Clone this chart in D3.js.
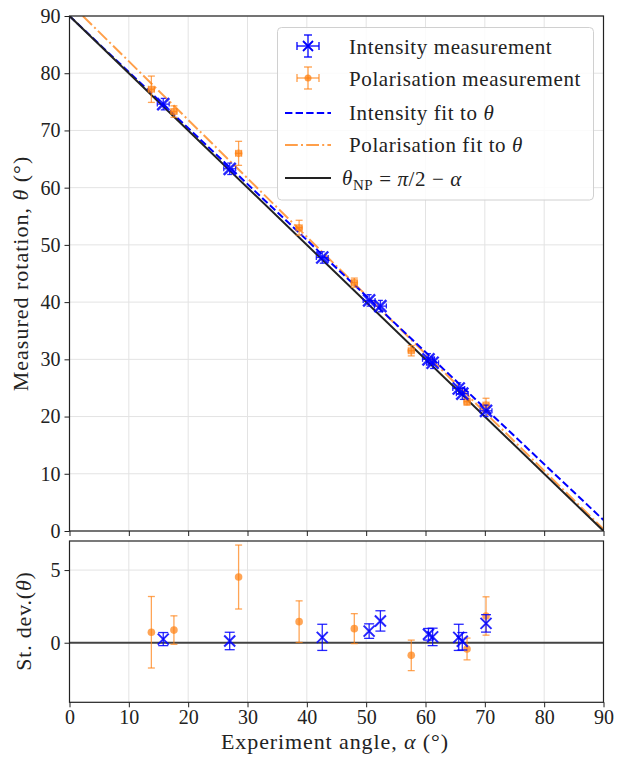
<!DOCTYPE html>
<html>
<head>
<meta charset="utf-8">
<script src="https://cdn.jsdelivr.net/npm/d3@7"></script>
<style>
  body { margin: 0; background: #fff; }
  svg text { font-family: "Liberation Serif", "DejaVu Serif", serif; fill: #222; }
</style>
</head>
<body>
<div id="chart"></div>
<script>
// experiment angle alpha and measured rotation theta (degrees)
var intAlpha = [15.8, 27.0, 42.6, 50.5, 52.4, 60.5, 61.2, 65.6, 66.2, 70.2];
var intTheta = [74.6, 63.3, 47.8, 40.3, 39.3, 30.0, 29.4, 24.9, 24.0, 21.0];
var intAlphaErr = [1, 1, 1, 1, 1, 1, 1, 1, 1, 1];
var intThetaErr = [1, 1, 1, 1, 1, 1, 1, 1, 1, 1];
var intResid = [0.25, 0.12, 0.37, 0.8, 1.5, 0.58, 0.4, 0.37, 0.1, 1.33];
var intResidErr = [0.45, 0.6, 0.9, 0.5, 0.7, 0.4, 0.6, 0.9, 0.6, 0.6];

var polAlpha = [13.8, 17.6, 28.5, 38.7, 48.0, 57.6, 67.0, 70.2];
var polTheta = [77.2, 73.3, 66.0, 53.0, 43.4, 31.5, 22.6, 22.0];
var polAlphaErr = [0.5, 0.5, 0.5, 0.5, 0.5, 0.5, 0.5, 0.5];
var polThetaErr = [2.3, 1.0, 2.1, 1.3, 0.8, 0.9, 0.6, 1.2];
var polResid = [0.72, 0.87, 4.52, 1.45, 0.97, -0.87, -0.43, 1.84];
var polResidErr = [2.46, 0.98, 2.2, 1.43, 1.03, 1.05, 0.75, 1.32];

// fitted lines, end points
var intFitAlpha = [0, 90];
var intFitTheta = [90, 1.9];
var polFitAlpha = [2.25, 90];
var polFitTheta = [90, 0.3];
var npAlpha = [0, 90];
var npTheta = [90, 0];

var xTicks = [0, 10, 20, 30, 40, 50, 60, 70, 80, 90];
var yTicks = [0, 10, 20, 30, 40, 50, 60, 70, 80, 90];
var rTicks = [0, 5];

var W = 628, H = 757;
var blue = "#0000ff", orange = "#ff7f0e";

var svg = d3.select("#chart").append("svg")
  .attr("width", W).attr("height", H);

var x = d3.scaleLinear().domain([0, 90]).range([69.5, 603.5]);
var y = d3.scaleLinear().domain([0, 90]).range([531, 16]);
var yr = d3.scaleLinear().domain([-4.1, 7.0]).range([702.3, 541]);

var tickFont = 20;

// grids
function grid(g, ys, yscale, y0, y1) {
  g.selectAll(".vg").data(xTicks).enter().append("line")
    .attr("x1", d => x(d)).attr("x2", d => x(d))
    .attr("y1", y0).attr("y2", y1)
    .attr("stroke", "#e3e3e3").attr("stroke-width", 1);
  g.selectAll(".hg").data(ys).enter().append("line")
    .attr("x1", x(0)).attr("x2", x(90))
    .attr("y1", d => yscale(d)).attr("y2", d => yscale(d))
    .attr("stroke", "#e3e3e3").attr("stroke-width", 1);
}
grid(svg.append("g"), yTicks, y, 16, 531);
grid(svg.append("g"), rTicks, yr, 541, 702.3);

// axes
function styleAxis(g) {
  g.select(".domain").remove();
  g.selectAll(".tick line").attr("stroke", "#222").attr("stroke-width", 1);
  g.selectAll(".tick text").attr("font-size", tickFont)
    .style("font-family", "'Liberation Serif', serif").attr("fill", "#222");
}
svg.append("g").attr("transform", "translate(0,531)")
  .call(d3.axisBottom(x).tickValues(xTicks).tickSize(5).tickFormat(""))
  .call(styleAxis);
svg.append("g").attr("transform", "translate(0,702.3)")
  .call(d3.axisBottom(x).tickValues(xTicks).tickSize(5).tickPadding(3).tickFormat(d3.format("d")))
  .call(styleAxis);
svg.append("g").attr("transform", "translate(69.5,0)")
  .call(d3.axisLeft(y).tickValues(yTicks).tickSize(5).tickPadding(4).tickFormat(d3.format("d")))
  .call(styleAxis);
svg.append("g").attr("transform", "translate(69.5,0)")
  .call(d3.axisLeft(yr).tickValues(rTicks).tickSize(5).tickPadding(4).tickFormat(d3.format("d")))
  .call(styleAxis);

// clip for top panel
svg.append("clipPath").attr("id", "clipTop").append("rect")
  .attr("x", x(0)).attr("y", 16).attr("width", x(90) - x(0)).attr("height", 515);

var topG = svg.append("g").attr("clip-path", "url(#clipTop)");
var line = d3.line().x(d => x(d[0])).y(d => y(d[1]));

topG.append("path").datum(d3.zip(polFitAlpha, polFitTheta))
  .attr("d", line).attr("fill", "none").attr("stroke", orange).attr("stroke-opacity", 0.75)
  .attr("stroke-width", 2).attr("stroke-dasharray", "12.8,3.2,2,3.2");
topG.append("path").datum(d3.zip(intFitAlpha, intFitTheta))
  .attr("d", line).attr("fill", "none").attr("stroke", blue)
  .attr("stroke-width", 2).attr("stroke-dasharray", "7.4,3.2");
topG.append("path").datum(d3.zip(npAlpha, npTheta))
  .attr("d", line).attr("fill", "none").attr("stroke", "#222")
  .attr("stroke-width", 2);

// error bar helper
function errbars(g, xs, ys, xe, ye, xs_, ys_, col, op, cap) {
  var data = xs.map((d, i) => ({a: d, t: ys[i], ea: xe ? xe[i] : 0, et: ye[i]}));
  var gg = g.append("g").attr("stroke", col).attr("stroke-opacity", op).attr("stroke-width", 1.3);
  data.forEach(function(d) {
    var cx = xs_(d.a), cy = ys_(d.t);
    var t1 = ys_(d.t + d.et), t2 = ys_(d.t - d.et);
    gg.append("line").attr("x1", cx).attr("x2", cx).attr("y1", t1).attr("y2", t2);
    gg.append("line").attr("x1", cx - cap).attr("x2", cx + cap).attr("y1", t1).attr("y2", t1);
    gg.append("line").attr("x1", cx - cap).attr("x2", cx + cap).attr("y1", t2).attr("y2", t2);
    if (d.ea) {
      var a1 = xs_(d.a - d.ea), a2 = xs_(d.a + d.ea);
      gg.append("line").attr("x1", a1).attr("x2", a2).attr("y1", cy).attr("y2", cy);
      gg.append("line").attr("x1", a1).attr("x2", a1).attr("y1", cy - cap).attr("y2", cy + cap);
      gg.append("line").attr("x1", a2).attr("x2", a2).attr("y1", cy - cap).attr("y2", cy + cap);
    }
  });
  return data;
}
function xMarks(g, data, xs_, ys_, s, w) {
  data.forEach(function(d) {
    var cx = xs_(d.a), cy = ys_(d.t);
    g.append("path")
      .attr("d", "M" + (cx - s) + "," + (cy - s) + "L" + (cx + s) + "," + (cy + s) +
                 "M" + (cx - s) + "," + (cy + s) + "L" + (cx + s) + "," + (cy - s))
      .attr("stroke", blue).attr("stroke-opacity", 0.85).attr("stroke-width", w);
  });
}
function dots(g, data, xs_, ys_, r) {
  g.selectAll(null).data(data).enter().append("circle")
    .attr("cx", d => xs_(d.a)).attr("cy", d => ys_(d.t)).attr("r", r)
    .attr("fill", orange).attr("fill-opacity", 0.7);
}

// top panel points
var pg = svg.append("g");
var pd = errbars(pg, polAlpha, polTheta, polAlphaErr, polThetaErr, x, y, orange, 0.7, 3.5);
dots(pg, pd, x, y, 3.8);
var id = errbars(pg, intAlpha, intTheta, intAlphaErr, intThetaErr, x, y, blue, 0.85, 2.5);
xMarks(pg, id, x, y, 6, 2.4);

// bottom panel
var bg = svg.append("g");
bg.append("line").attr("x1", x(0)).attr("x2", x(90)).attr("y1", yr(0)).attr("y2", yr(0))
  .attr("stroke", "#444").attr("stroke-width", 2);
var pr = errbars(bg, polAlpha, polResid, null, polResidErr, x, yr, orange, 0.7, 3.5);
dots(bg, pr, x, yr, 3.8);
var ir = errbars(bg, intAlpha, intResid, null, intResidErr, x, yr, blue, 0.85, 5);
xMarks(bg, ir, x, yr, 5.5, 2);

// frames
svg.append("rect").attr("x", x(0)).attr("y", 16).attr("width", x(90) - x(0)).attr("height", 515)
  .attr("fill", "none").attr("stroke", "#222").attr("stroke-width", 1.2);
svg.append("rect").attr("x", x(0)).attr("y", 541).attr("width", x(90) - x(0)).attr("height", 702.3 - 541)
  .attr("fill", "none").attr("stroke", "#222").attr("stroke-width", 1.2);

// legend
var lg = svg.append("g");
lg.append("rect").attr("x", 277.5).attr("y", 27.5).attr("width", 316).attr("height", 172.5)
  .attr("rx", 4).attr("fill", "#fff").attr("fill-opacity", 0.85)
  .attr("stroke", "#d0d0d0").attr("stroke-width", 1);
var legRows = [47, 79, 113, 145, 178];
var hx0 = 285, hx1 = 331, hc = 308;
// intensity handle
(function() {
  var cy = legRows[0] - 1, g = lg.append("g").attr("stroke", blue).attr("stroke-width", 1.3);
  g.append("line").attr("x1", hc).attr("x2", hc).attr("y1", cy - 11).attr("y2", cy + 11);
  g.append("line").attr("x1", hc - 11).attr("x2", hc + 11).attr("y1", cy).attr("y2", cy);
  [-11, 11].forEach(function(o) {
    g.append("line").attr("x1", hc - 4).attr("x2", hc + 4).attr("y1", cy + o).attr("y2", cy + o);
    g.append("line").attr("x1", hc + o).attr("x2", hc + o).attr("y1", cy - 4).attr("y2", cy + 4);
  });
  g.append("path").attr("d", "M" + (hc - 5) + "," + (cy - 5) + "L" + (hc + 5) + "," + (cy + 5) +
    "M" + (hc - 5) + "," + (cy + 5) + "L" + (hc + 5) + "," + (cy - 5)).attr("stroke-width", 1.8);
})();
// polarisation handle
(function() {
  var cy = legRows[1] - 1, g = lg.append("g").attr("stroke", orange).attr("stroke-opacity", 0.75).attr("stroke-width", 1.3);
  g.append("line").attr("x1", hc).attr("x2", hc).attr("y1", cy - 11).attr("y2", cy + 11);
  g.append("line").attr("x1", hc - 11).attr("x2", hc + 11).attr("y1", cy).attr("y2", cy);
  [-11, 11].forEach(function(o) {
    g.append("line").attr("x1", hc - 4).attr("x2", hc + 4).attr("y1", cy + o).attr("y2", cy + o);
    g.append("line").attr("x1", hc + o).attr("x2", hc + o).attr("y1", cy - 4).attr("y2", cy + 4);
  });
  lg.append("circle").attr("cx", hc).attr("cy", cy).attr("r", 3.5).attr("fill", orange).attr("fill-opacity", 0.75);
})();
lg.append("line").attr("x1", hx0).attr("x2", hx1).attr("y1", legRows[2]).attr("y2", legRows[2])
  .attr("stroke", blue).attr("stroke-width", 2).attr("stroke-dasharray", "7.4,3.2");
lg.append("line").attr("x1", hx0).attr("x2", hx1).attr("y1", legRows[3]).attr("y2", legRows[3])
  .attr("stroke", orange).attr("stroke-opacity", 0.75).attr("stroke-width", 2).attr("stroke-dasharray", "12.8,3.2,2,3.2");
lg.append("line").attr("x1", hx0).attr("x2", hx1).attr("y1", legRows[4]).attr("y2", legRows[4])
  .attr("stroke", "#222").attr("stroke-width", 2);

var legFont = 21;
function legText(i) {
  return lg.append("text").attr("x", 349).attr("y", legRows[i]).attr("dy", "0.35em")
    .attr("font-size", legFont).attr("letter-spacing", 0.6);
}
legText(0).text("Intensity measurement");
legText(1).text("Polarisation measurement");
var t2 = legText(2); t2.append("tspan").text("Intensity fit to ");
t2.append("tspan").attr("font-style", "italic").text("θ");
var t3 = legText(3); t3.append("tspan").text("Polarisation fit to ");
t3.append("tspan").attr("font-style", "italic").text("θ");
var t4 = lg.append("text").attr("x", 342).attr("y", legRows[4]).attr("dy", "0.35em")
  .attr("font-size", legFont).attr("letter-spacing", 0.6);
t4.append("tspan").attr("font-style", "italic").text("θ");
t4.append("tspan").attr("font-size", 15).attr("dy", "0.3em").text("NP");
t4.append("tspan").attr("dy", "-0.2em").text(" = ");
t4.append("tspan").attr("font-style", "italic").text("π");
t4.append("tspan").text("/2 − ");
t4.append("tspan").attr("font-style", "italic").text("α");

// axis labels
var yl = svg.append("text").attr("transform", "translate(28,273.5) rotate(-90)")
  .attr("text-anchor", "middle").attr("font-size", 22).attr("letter-spacing", 1);
yl.append("tspan").text("Measured rotation, ");
yl.append("tspan").attr("font-style", "italic").text("θ");
yl.append("tspan").text(" (°)");

var rl = svg.append("text").attr("transform", "translate(31,621) rotate(-90)")
  .attr("text-anchor", "middle").attr("font-size", 22).attr("letter-spacing", 0.8);
rl.append("tspan").text("St. dev.(");
rl.append("tspan").attr("font-style", "italic").text("θ");
rl.append("tspan").text(")");

var xl = svg.append("text").attr("x", 335).attr("y", 749)
  .attr("text-anchor", "middle").attr("font-size", 22).attr("letter-spacing", 0.9);
xl.append("tspan").text("Experiment angle, ");
xl.append("tspan").attr("font-style", "italic").text("α");
xl.append("tspan").text(" (°)");
</script>
</body>
</html>
